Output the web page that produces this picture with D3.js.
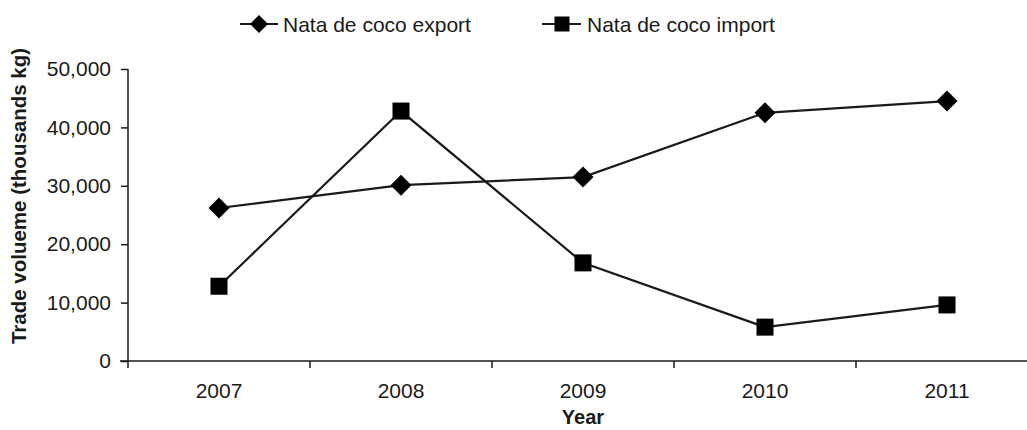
<!DOCTYPE html>
<html>
<head>
<meta charset="utf-8">
<script src="https://cdn.jsdelivr.net/npm/d3@7"></script>
<style>
  html, body { margin: 0; padding: 0; background: #fff; }
  svg { display: block; }
  text { font-family: "Liberation Sans", Arial, Helvetica, sans-serif; fill: #1a1a1a; }
</style>
</head>
<body>
<svg id="chart" width="1027" height="430"></svg>
<script>
// Nata de coco trade volume, thousands kg
const years = ["2007", "2008", "2009", "2010", "2011"];
const exportValues = [26200, 30100, 31500, 42500, 44500];
const importValues = [12800, 42800, 16800, 5800, 9600];
const yTicks = [0, 10000, 20000, 30000, 40000, 50000];
const seriesNames = ["Nata de coco export", "Nata de coco import"];

const svg = d3.select("#chart");
const W = 1027, H = 430;
const plotLeft = 128, plotBottom = 361, plotTop = 69;

const x = d3.scaleBand().domain(years).range([plotLeft, plotLeft + 182 * years.length]).paddingInner(0).paddingOuter(0);
const y = d3.scaleLinear().domain([0, 50000]).range([plotBottom, plotTop]);

const ink = "#1a1a1a";

// Y axis
const yAxis = svg.append("g")
  .attr("transform", `translate(${plotLeft},0)`)
  .call(d3.axisLeft(y).tickValues(yTicks).tickSize(7).tickPadding(10).tickFormat(d3.format(",")));
yAxis.select(".domain").attr("stroke", ink).attr("stroke-width", 1.5).attr("d", `M0,${plotTop}V${plotBottom}`);
yAxis.selectAll(".tick line").attr("stroke", ink).attr("stroke-width", 1.5);
yAxis.selectAll(".tick text").attr("font-size", "21px").attr("fill", ink)
  .attr("font-family", "'Liberation Sans', Arial, sans-serif");

// X axis: labels centred in bands, tick marks at band boundaries
const xAxis = svg.append("g")
  .attr("transform", `translate(0,${plotBottom})`)
  .call(d3.axisBottom(x).tickSize(0).tickPadding(22));
xAxis.select(".domain").attr("stroke", ink).attr("stroke-width", 1.5).attr("d", `M${plotLeft - 8},0H${W}`);
xAxis.selectAll(".tick text").attr("font-size", "21px").attr("fill", ink)
  .attr("font-family", "'Liberation Sans', Arial, sans-serif");
xAxis.selectAll(".boundary")
  .data(years)
  .join("line")
  .attr("class", "boundary")
  .attr("x1", d => x(d)).attr("x2", d => x(d))
  .attr("y1", 0).attr("y2", 7)
  .attr("stroke", ink).attr("stroke-width", 1.5);

// Axis titles
svg.append("text")
  .attr("x", x("2009") + x.bandwidth() / 2)
  .attr("y", 424)
  .attr("text-anchor", "middle")
  .attr("font-weight", "bold")
  .attr("font-size", "20px")
  .text("Year");

svg.append("text")
  .attr("transform", `translate(26,${(42 + 350) / 2}) rotate(-90)`)
  .attr("text-anchor", "middle")
  .attr("font-weight", "bold")
  .attr("font-size", "20.5px")
  .text("Trade volueme (thousands kg)");

// Lines
const cx = d => x(d) + x.bandwidth() / 2;
const line = d3.line().x(d => cx(d.year)).y(d => y(d.value));
const exportData = years.map((yr, i) => ({ year: yr, value: exportValues[i] }));
const importData = years.map((yr, i) => ({ year: yr, value: importValues[i] }));

svg.append("path").datum(importData).attr("d", line)
  .attr("fill", "none").attr("stroke", ink).attr("stroke-width", 2.2);
svg.append("path").datum(exportData).attr("d", line)
  .attr("fill", "none").attr("stroke", ink).attr("stroke-width", 2.2);

const diamond = (cxp, cyp, r) => `M${cxp},${cyp - r}L${cxp + r},${cyp}L${cxp},${cyp + r}L${cxp - r},${cyp}Z`;
const sq = 17;

svg.selectAll(".exp-mark").data(exportData).join("path")
  .attr("class", "exp-mark")
  .attr("d", d => diamond(cx(d.year), y(d.value), 10.5))
  .attr("fill", "#000");

svg.selectAll(".imp-mark").data(importData).join("rect")
  .attr("class", "imp-mark")
  .attr("x", d => cx(d.year) - sq / 2).attr("y", d => y(d.value) - sq / 2)
  .attr("width", sq).attr("height", sq)
  .attr("fill", "#000");

// Legend
const legendY = 24;
const lg1 = svg.append("g");
lg1.append("line").attr("x1", 240).attr("x2", 278).attr("y1", legendY).attr("y2", legendY)
  .attr("stroke", ink).attr("stroke-width", 2.2);
lg1.append("path").attr("d", diamond(259, legendY, 9)).attr("fill", "#000");
lg1.append("text").attr("x", 283).attr("y", legendY + 7.5).attr("font-size", "21px").text(seriesNames[0]);

const lg2 = svg.append("g");
lg2.append("line").attr("x1", 542).attr("x2", 581).attr("y1", legendY).attr("y2", legendY)
  .attr("stroke", ink).attr("stroke-width", 2.2);
lg2.append("rect").attr("x", 562 - 7.5).attr("y", legendY - 7.5).attr("width", 15).attr("height", 15).attr("fill", "#000");
lg2.append("text").attr("x", 587).attr("y", legendY + 7.5).attr("font-size", "21px").text(seriesNames[1]);
</script>
</body>
</html>
